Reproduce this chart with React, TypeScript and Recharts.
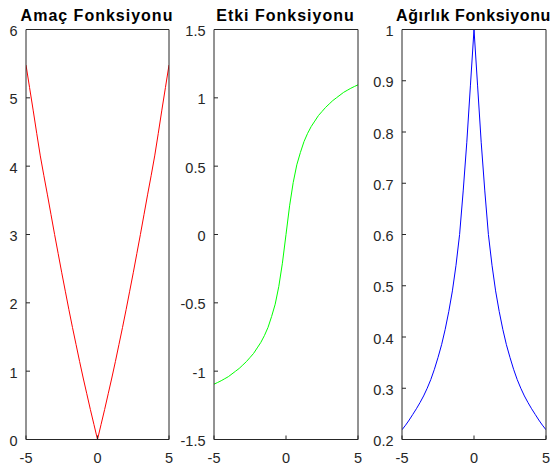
import { LineChart, Line, XAxis, YAxis } from "recharts";

const xs = [
  -5, -4.75, -4.5, -4.25, -4, -3.75, -3.5, -3.25, -3, -2.75, -2.5, -2.25, -2, -1.75, -1.5, -1.25, -1, -0.75, -0.5, -0.25,
  0, 0.25, 0.5, 0.75, 1, 1.25, 1.5, 1.75, 2, 2.25, 2.5, 2.75, 3, 3.25, 3.5, 3.75, 4, 4.25, 4.5, 4.75, 5,
];

// Amaç fonksiyonu
const rhoValues = [
  5.48, 5.15, 4.82, 4.48, 4.15, 3.86, 3.58, 3.29, 3.0, 2.72, 2.44, 2.17, 1.9, 1.64, 1.39, 1.14, 0.9, 0.67, 0.44, 0.22,
  0, 0.22, 0.44, 0.67, 0.9, 1.14, 1.39, 1.64, 1.9, 2.17, 2.44, 2.72, 3.0, 3.29, 3.58, 3.86, 4.15, 4.48, 4.82, 5.15, 5.48,
];

// Etki fonksiyonu
const psiValues = [
  -1.095, -1.083, -1.07, -1.055, -1.04, -1.02, -1.0, -0.98, -0.955, -0.93, -0.9, -0.87, -0.83, -0.79, -0.74, -0.68, -0.6, -0.51, -0.38, -0.21,
  0, 0.21, 0.38, 0.51, 0.6, 0.68, 0.74, 0.79, 0.83, 0.87, 0.9, 0.93, 0.955, 0.98, 1.0, 1.02, 1.04, 1.055, 1.07, 1.083, 1.095,
];

// Ağırlık fonksiyonu
const weightValues = [
  0.219, 0.228, 0.238, 0.249, 0.26, 0.272, 0.285, 0.3, 0.317, 0.337, 0.36, 0.385, 0.415, 0.45, 0.49, 0.54, 0.6, 0.685, 0.78, 0.89,
  1.0, 0.89, 0.78, 0.685, 0.6, 0.54, 0.49, 0.45, 0.415, 0.385, 0.36, 0.337, 0.317, 0.3, 0.285, 0.272, 0.26, 0.249, 0.238, 0.228, 0.219,
];

const xTicks = [-5, 0, 5];
const rhoTicks = [0, 1, 2, 3, 4, 5, 6];
const psiTicks = [-1.5, -1, -0.5, 0, 0.5, 1, 1.5];
const weightTicks = [0.2, 0.3, 0.4, 0.5, 0.6, 0.7, 0.8, 0.9, 1];

const rows = xs.map((x, i) => ({ x, rho: rhoValues[i], psi: psiValues[i], w: weightValues[i] }));

const AXIS = "#262626";
const FONT = "Arial, 'Liberation Sans', Helvetica, sans-serif";
const PLOT_TOP = 29.5;
const PLOT_BOTTOM = 439.5;
const H = 467;
const LEFT_PAD = 42;
const RIGHT_PAD = 6;

interface PanelProps {
  title: string;
  plotLeft: number;
  plotRight: number;
  dataKey: string;
  color: string;
  domain: [number, number];
  ticks: number[];
  spacing?: number;
}

function Panel({ title, plotLeft, plotRight, dataKey, color, domain, ticks, spacing = 1.0 }: PanelProps) {
  const width = plotRight - plotLeft + LEFT_PAD + RIGHT_PAD;
  const tickStyle = { fill: AXIS, fontSize: 14.5, fontFamily: FONT };
  const fmt = (v: number) => String(v);
  return (
    <>
      <div
        style={{
          position: "absolute",
          left: (plotLeft + plotRight) / 2 - 100,
          width: 200,
          top: 7.5,
          textAlign: "center",
          fontFamily: FONT,
          fontWeight: "bold",
          fontSize: 16,
          letterSpacing: spacing,
          lineHeight: 1,
          color: "#000",
          whiteSpace: "nowrap",
        }}
      >
        {title}
      </div>
      <div style={{ position: "absolute", left: plotLeft - LEFT_PAD, top: 0 }}>
        <LineChart
          width={width}
          height={H}
          data={rows}
          margin={{ top: PLOT_TOP - 1, right: RIGHT_PAD - 1, bottom: 0, left: 0 }}
        >
          <XAxis
            xAxisId="b"
            dataKey="x"
            type="number"
            domain={[-5, 5]}
            ticks={xTicks}
            allowDataOverflow
            height={H - PLOT_BOTTOM}
            stroke={AXIS}
            tickSize={-4}
            tickMargin={17}
            tick={tickStyle}
            tickFormatter={fmt}
          />
          <XAxis
            xAxisId="t"
            orientation="top"
            type="number"
            domain={[-5, 5]}
            ticks={xTicks}
            allowDataOverflow
            height={1}
            stroke={AXIS}
            tickSize={-4}
            tick={false}
          />
          <YAxis
            yAxisId="l"
            type="number"
            domain={domain}
            ticks={ticks}
            allowDataOverflow
            width={LEFT_PAD}
            stroke={AXIS}
            tickSize={-4}
            tickMargin={12.5}
            tick={{ ...tickStyle, dy: 1.5 }}
            tickFormatter={fmt}
          />
          <YAxis
            yAxisId="r"
            orientation="right"
            type="number"
            domain={domain}
            ticks={ticks}
            allowDataOverflow
            width={1}
            stroke={AXIS}
            tickSize={-4}
            tick={false}
          />
          <Line
            xAxisId="b"
            yAxisId="l"
            type="linear"
            dataKey={dataKey}
            stroke={color}
            strokeWidth={1}
            dot={false}
            activeDot={false}
            isAnimationActive={false}
          />
        </LineChart>
      </div>
    </>
  );
}

export default function App() {
  return (
    <div
      style={{
        position: "absolute",
        left: 0,
        top: 0,
        width: 552,
        height: 467,
        overflow: "hidden",
        background: "#fff",
      }}
    >
      <Panel title="Amaç Fonksiyonu" plotLeft={25.5} plotRight={168.5} dataKey="rho" color="#ff0000" domain={[0, 6]} ticks={rhoTicks} />
      <Panel title="Etki Fonksiyonu" plotLeft={213.5} plotRight={357.5} dataKey="psi" color="#00ff00" domain={[-1.5, 1.5]} ticks={psiTicks} />
      <Panel title="Ağırlık Fonksiyonu" plotLeft={401.5} plotRight={545.5} dataKey="w" color="#0000ff" domain={[0.2, 1]} ticks={weightTicks} spacing={0.6} />
    </div>
  );
}
